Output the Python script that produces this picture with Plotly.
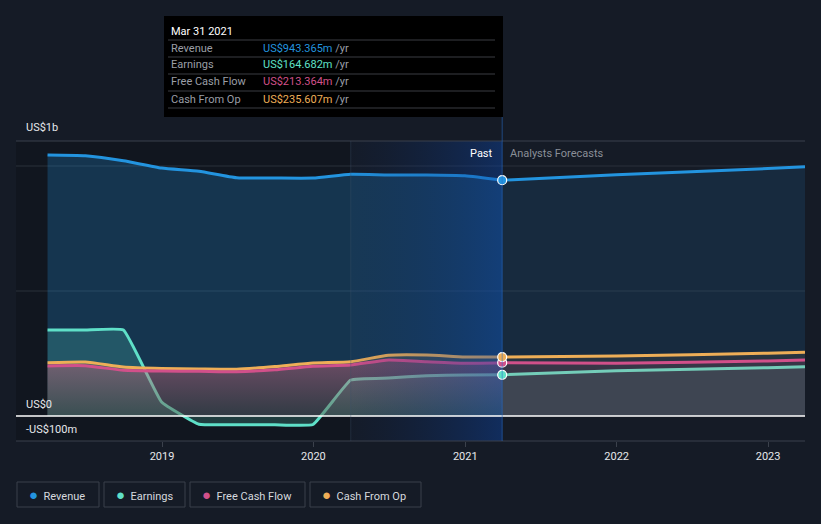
import plotly.graph_objects as go

W, H = 821, 524
def px(x): return x / W
def py(y): return 1 - y / H

# ---------------- data (US$ millions) ----------------
past_dates = ['2018-03-31', '2018-06-30', '2018-09-30', '2018-12-31', '2019-03-31', '2019-06-30',
              '2019-09-30', '2019-12-31', '2020-03-31', '2020-06-30', '2020-09-30', '2020-12-31',
              '2021-03-31']
revenue_past = [1044, 1041, 1021, 992, 979, 953, 952, 952, 967, 964, 964, 961, 943.365]
earnings_past = [344, 344, 344, 56, -33, -35, -35, -34, 144, 152, 161, 164, 164.682]
fcf_past = [200, 201, 183, 180, 179, 177, 185, 199, 204, 224, 217, 211, 213.364]
cfo_past = [213, 216, 196, 190, 188, 187, 198, 212, 217, 243, 244, 236, 235.607]

fc_dates = ['2021-03-31', '2021-12-31', '2022-12-31', '2023-03-31']
revenue_fc = [943.365, 965, 990, 997]
earnings_fc = [164.682, 181, 193, 197]
fcf_fc = [213.364, 211, 220, 224]
cfo_fc = [235.607, 240, 251, 255]

year_ticks = ['2019-01-01', '2020-01-01', '2021-01-01', '2022-01-01', '2023-01-01']
year_labels = ['2019', '2020', '2021', '2022', '2023']

series_names = ['Revenue', 'Earnings', 'Free Cash Flow', 'Cash From Op']
tooltip_values = ['US$943.365m', 'US$164.682m', 'US$213.364m', 'US$235.607m']

BG = '#151b26'
C_REV = '#2394df'
C_EARN = '#5fe0c8'
C_FCF = '#d1508a'
C_CFO = '#eeae57'

def rgba(hexc, a):
    h = hexc.lstrip('#')
    r, g, b = int(h[0:2], 16), int(h[2:4], 16), int(h[4:6], 16)
    return f'rgba({r},{g},{b},{a})'

fig = go.Figure()

series = [
    ('Revenue', revenue_past, revenue_fc, C_REV, 0.25, 0.13, 0.5),
    ('Earnings', earnings_past, earnings_fc, C_EARN, 0.2, 0.1, 0.3),
    ('Cash From Op', cfo_past, cfo_fc, C_CFO, 0.16, 0.08, 0.5),
    ('Free Cash Flow', fcf_past, fcf_fc, C_FCF, 0.2, 0.1, 0.5),
]
for name, pv, fv, col, a_p, a_f, sm in series:
    kw_p = dict(fillcolor=rgba(col, a_p))
    if name == 'Free Cash Flow':
        kw_p = dict(fillgradient=dict(type='vertical', start=0, stop=200,
                                      colorscale=[[0, 'rgba(35,28,40,0.3)'], [1, rgba(col, 0.3)]]))
    fig.add_trace(go.Scatter(x=past_dates, y=pv, mode='lines', line=dict(color=col, width=3, shape='spline', smoothing=sm),
                             fill='tozeroy', hoverinfo='skip', showlegend=False, **kw_p))
    fig.add_trace(go.Scatter(x=fc_dates, y=fv, mode='lines', line=dict(color=col, width=3, shape='spline', smoothing=sm),
                             fill='tozeroy', fillcolor=rgba(col, a_f), hoverinfo='skip', showlegend=False))

# past highlight (gradient band up to latest data point)
fig.add_trace(go.Scatter(x=['2020-03-31', '2021-03-31', '2021-03-31', '2020-03-31', '2020-03-31'],
                         y=[-100, -100, 1100, 1100, -100], mode='lines', line=dict(width=0),
                         fill='toself',
                         fillgradient=dict(type='horizontal',
                                           colorscale=[[0, 'rgba(10,40,100,0.05)'], [1, 'rgba(12,70,170,0.42)']]),
                         hoverinfo='skip', showlegend=False))

# markers at latest point
for vals, col in [(revenue_past, C_REV), (earnings_past, C_EARN), (fcf_past, C_FCF), (cfo_past, C_CFO)]:
    fig.add_trace(go.Scatter(x=[past_dates[-1]], y=[vals[-1]], mode='markers',
                             marker=dict(size=9, color=col, line=dict(color='white', width=1.2)),
                             hoverinfo='skip', showlegend=False))

shapes = []
# darker past background
shapes.append(dict(type='rect', xref='x', yref='paper', x0='2018-01-14', x1='2020-03-31',
                   y0=py(441), y1=py(141), fillcolor='rgba(0,0,0,0.16)', line=dict(width=0), layer='below'))
# gridlines
for yy, col in [(141, '#3b414c'), (166, '#2a303b'), (291, '#2a303b'), (441, '#3b414c')]:
    shapes.append(dict(type='line', xref='paper', yref='paper', x0=px(16), x1=px(805), y0=py(yy), y1=py(yy),
                       line=dict(color=col, width=1), layer='above' if yy in (141, 441) else 'below'))
# zero line
shapes.append(dict(type='line', xref='paper', yref='paper', x0=px(16), x1=px(805), y0=py(416), y1=py(416),
                   line=dict(color='#ffffff', width=1.5), layer='above'))
# vertical separators
shapes.append(dict(type='line', xref='x', yref='paper', x0='2021-03-31', x1='2021-03-31', y0=py(441), y1=py(116),
                   line=dict(color='rgba(40,110,200,0.55)', width=1), layer='above'))
shapes.append(dict(type='line', xref='x', yref='paper', x0='2020-03-31', x1='2020-03-31', y0=py(441), y1=py(141),
                   line=dict(color='rgba(60,80,110,0.35)', width=1), layer='above'))
# tooltip box
shapes.append(dict(type='rect', xref='paper', yref='paper', x0=px(164), x1=px(503), y0=py(117), y1=py(16),
                   fillcolor='#000000', line=dict(width=0), layer='above'))
for yy in [40, 57, 74, 91, 108]:
    shapes.append(dict(type='line', xref='paper', yref='paper', x0=px(168), x1=px(495), y0=py(yy), y1=py(yy),
                       line=dict(color='#3a3d42', width=1), layer='above'))
# legend boxes
legend_boxes = [(17, 99), (104, 185), (190, 305), (310, 421)]
legend_cols = [C_REV, C_EARN, C_FCF, C_CFO]
for (x0, x1) in legend_boxes:
    shapes.append(dict(type='rect', xref='paper', yref='paper', x0=px(x0), x1=px(x1), y0=py(507), y1=py(482),
                       fillcolor='rgba(0,0,0,0)', line=dict(color='#3a404b', width=1), layer='above'))

ann = []
FONT = 'Roboto, Open Sans, sans-serif'
def text(x, y, s, color, size=11, anchor='left', bold=False):
    ann.append(dict(xref='paper', yref='paper', x=px(x), y=py(y), text=(f'<b>{s}</b>' if bold else s),
                    showarrow=False, xanchor=anchor, yanchor='middle',
                    font=dict(color=color, size=size, family=FONT)))

# y-axis labels
text(24, 128, 'US$1b', '#e6e8eb', 11)
text(24, 404, 'US$0', '#e6e8eb', 11)
text(24, 429, '-US$100m', '#e6e8eb', 11)
# past / forecast labels
text(495, 153, 'Past', '#ffffff', 11, anchor='right')
text(508, 153, 'Analysts Forecasts', '#8a8f98', 11)
# tooltip
text(169, 31, 'Mar 31 2021', '#ffffff', 11)
val_cols = [C_REV, C_EARN, C_FCF, C_CFO]
for i, (nm, v) in enumerate(zip(series_names, tooltip_values)):
    yy = 48 + 17 * i
    text(169, yy, nm, '#9a9ea6', 11)
    ann.append(dict(xref='paper', yref='paper', x=px(261), y=py(yy),
                    text=f'<span style="color:{val_cols[i]}">{v}</span> <span style="color:#9a9ea6">/yr</span>',
                    showarrow=False, xanchor='left', yanchor='middle', font=dict(size=11, family=FONT)))
# legend entries
for (x0, x1), nm, col in zip(legend_boxes, series_names, legend_cols):
    ann.append(dict(xref='paper', yref='paper', x=px(x0 + 10), y=py(494.5),
                    text=f'<span style="color:{col};font-size:15px">●</span>  <span style="color:#d6d9de">{nm}</span>',
                    showarrow=False, xanchor='left', yanchor='middle', font=dict(size=11, family=FONT)))

fig.update_layout(
    width=W, height=H, margin=dict(l=0, r=0, t=0, b=0),
    paper_bgcolor=BG, plot_bgcolor=BG,
    shapes=shapes, annotations=ann, showlegend=False,
    xaxis=dict(domain=[px(16), px(805)], range=['2018-01-14', '2023-03-31'], type='date',
               tickvals=year_ticks, ticktext=year_labels, showgrid=False, zeroline=False,
               ticks='outside', ticklen=5, tickcolor='#3b414c', tickfont=dict(color='#e6e8eb', size=11, family=FONT),
               showline=False, fixedrange=True),
    yaxis=dict(domain=[py(441), py(141)], range=[-100, 1100], showgrid=False, zeroline=False,
               showticklabels=False, fixedrange=True),
)

fig.write_html('out.html', config={'displayModeBar': False},
               post_script="document.body.style.margin='0';document.body.style.background='#151b26';")
